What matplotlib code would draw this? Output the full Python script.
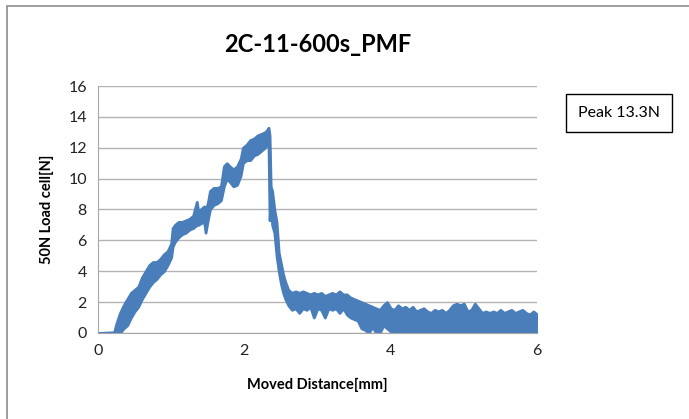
import matplotlib
matplotlib.use('Agg')
import matplotlib.pyplot as plt
from matplotlib.patches import Rectangle

# distance [mm] and lower / upper envelope of the noisy load trace [N]
dist = [0.00, 0.22, 0.25, 0.30, 0.35, 0.40, 0.45, 0.50, 0.55, 0.60, 0.65, 0.70,
        0.75, 0.80, 0.85, 0.90, 0.95, 1.00, 1.02, 1.05, 1.10, 1.15, 1.20, 1.25,
        1.30, 1.35, 1.37, 1.40, 1.45, 1.47, 1.50, 1.53, 1.58, 1.63, 1.68, 1.72,
        1.76, 1.80, 1.85, 1.90, 1.95, 1.98, 2.03, 2.08, 2.13, 2.18, 2.23, 2.28,
        2.32, 2.33, 2.345, 2.36, 2.38, 2.41, 2.44, 2.47, 2.50, 2.53, 2.56, 2.60,
        2.65, 2.70, 2.75, 2.80, 2.85, 2.90, 2.95, 3.00, 3.05, 3.10, 3.15, 3.20,
        3.25, 3.30, 3.35, 3.40, 3.45, 3.50, 3.55, 3.60, 3.65, 3.70, 3.75, 3.80,
        3.85, 3.90, 3.95, 4.00, 4.05, 4.10, 4.15, 4.20, 4.25, 4.30, 4.35, 4.40,
        4.45, 4.50, 4.55, 4.60, 4.65, 4.70, 4.75, 4.80, 4.85, 4.90, 4.95, 5.00,
        5.05, 5.10, 5.15, 5.20, 5.25, 5.30, 5.35, 5.40, 5.45, 5.50, 5.55, 5.60,
        5.65, 5.70, 5.75, 5.80, 5.85, 5.90, 5.95, 6.00]
load_lo = [0.0, 0.0, 0.0, 0.0, 0.3, 0.5, 1.0, 1.4, 1.7, 2.2, 2.6, 3.0,
           3.3, 3.5, 3.8, 4.0, 4.4, 4.9, 5.6, 5.9, 6.2, 6.4, 6.5, 6.7,
           6.8, 7.0, 7.0, 7.1, 7.2, 6.5, 7.3, 8.0, 8.3, 8.4, 8.6, 9.5,
           10.0, 9.8, 9.5, 9.6, 10.2, 11.0, 11.2, 11.2, 11.5, 11.6, 11.8, 12.0,
           12.3, 12.3, 7.3, 8.5, 7.0, 6.5, 5.0, 4.0, 3.2, 2.6, 2.2, 1.8,
           1.5, 1.6, 1.3, 1.6, 1.5, 1.7, 1.0, 1.6, 1.5, 1.0, 1.6, 1.5,
           1.6, 1.3, 1.6, 1.2, 1.0, 0.9, 0.8, 0.3, 0.2, 0.0, 0.4, 0.0,
           0.0, 0.5, 0.3, 0.1, 0.0, 0.1, 0.0, 0.1, 0.0, 0.1, 0.0, 0.1,
           0.0, 0.1, 0.0, 0.1, 0.0, 0.1, 0.0, 0.1, 0.0, 0.1, 0.0, 0.1,
           0.0, 0.1, 0.0, 0.1, 0.0, 0.1, 0.0, 0.1, 0.0, 0.1, 0.0, 0.1,
           0.0, 0.1, 0.0, 0.1, 0.0, 0.1, 0.0, 0.1]
load_hi = [0.0, 0.05, 0.6, 1.3, 1.8, 2.2, 2.6, 2.8, 3.0, 3.6, 4.0, 4.4,
           4.6, 4.6, 4.8, 5.1, 5.3, 5.8, 6.8, 7.0, 7.2, 7.2, 7.3, 7.4,
           7.6, 8.5, 7.9, 8.0, 8.2, 8.0, 8.4, 9.2, 9.4, 9.4, 9.5, 10.8,
           11.0, 10.8, 10.6, 10.8, 11.3, 12.0, 12.2, 12.5, 12.6, 12.8, 12.9, 13.0,
           13.2, 13.3, 12.8, 9.5, 9.2, 8.0, 7.2, 5.2, 4.5, 3.8, 3.3, 2.8,
           2.6, 2.7, 2.6, 2.7, 2.6, 2.5, 2.6, 2.5, 2.6, 2.4, 2.5, 2.6,
           2.5, 2.7, 2.5, 2.5, 2.3, 2.2, 2.1, 2.0, 1.9, 1.8, 1.7, 1.6,
           1.5, 1.8, 2.0, 1.6, 1.5, 1.8, 1.6, 1.7, 1.5, 1.7, 1.4, 1.5,
           1.6, 1.4, 1.3, 1.5, 1.4, 1.5, 1.3, 1.5, 1.8, 1.9, 1.8, 1.9,
           1.4, 1.5, 1.9, 1.6, 1.3, 1.4, 1.3, 1.4, 1.3, 1.5, 1.3, 1.4,
           1.5, 1.3, 1.4, 1.5, 1.3, 1.2, 1.4, 1.2]

title = '2C-11-600s_PMF'
peak_text = 'Peak 13.3N'
blue = '#4a7ebb'

plt.rcParams['font.family'] = ['Lato', 'DejaVu Sans']

fig = plt.figure(figsize=(6.89, 4.19), dpi=100)
ax = fig.add_axes([0.1422, 0.2053, 0.6372, 0.5894])

ax.fill_between(dist, load_lo, load_hi, color=blue, linewidth=2.0, edgecolor=blue)

ax.set_xlim(0, 6)
ax.set_ylim(0, 16)
ax.set_xticks([0, 2, 4, 6])
ax.set_yticks(range(0, 17, 2))
ax.grid(axis='y', color='#b3b3b3', linewidth=1.0)
ax.set_axisbelow(True)
for s in ['top', 'right']:
    ax.spines[s].set_visible(False)
for s in ['left', 'bottom']:
    ax.spines[s].set_color('#a6a6a6')
ax.tick_params(length=0, labelsize=11.5, colors='#222222', pad=8)

ax.set_xlabel('Moved Distance[mm]', fontsize=10.5, fontweight='bold', labelpad=14)
ax.set_ylabel('50N Load cell[N]', fontsize=10.5, fontweight='bold', labelpad=10)
fig.text(0.4608, 0.893, title, ha='center', va='center', fontsize=17, fontweight='bold')

fig.text(0.898, 0.73, peak_text, ha='center', va='center', fontsize=11.5,
         bbox=dict(boxstyle='square,pad=0.75', facecolor='white', edgecolor='black', linewidth=1))

# outer chart frame
fig.patches.append(Rectangle((7 / 689, -0.05), 1.1, 1.05 - 6 / 419,
                             transform=fig.transFigure, fill=False,
                             edgecolor='#8c8c8c', linewidth=1.2))

fig.savefig('out.png', dpi=100)
